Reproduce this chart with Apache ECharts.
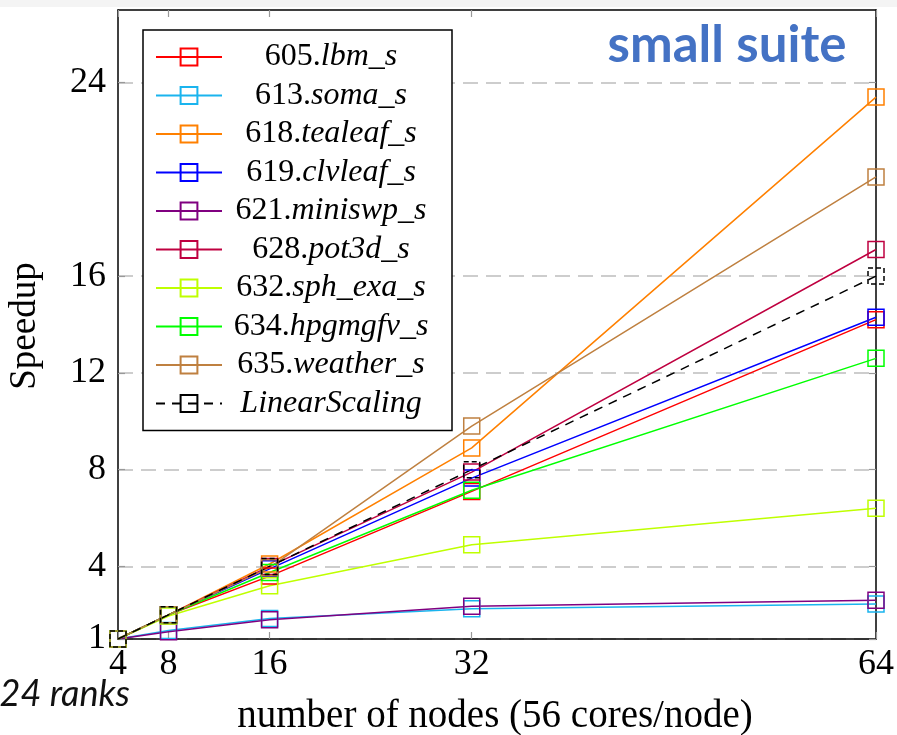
<!DOCTYPE html>
<html><head><meta charset="utf-8">
<script src="https://cdn.jsdelivr.net/npm/echarts@6/dist/echarts.min.js"></script>
<style>html,body{margin:0;padding:0;background:#fff}#c{width:897px;height:735px}</style>
</head><body><div id="c"></div>
<script>
// ---- data ----
const nodes = [4, 8, 16, 32, 64];
const xTicks = [4, 8, 16, 32, 64];
const yTicks = [1, 4, 8, 12, 16, 24];
const names = ['605.lbm_s','613.soma_s','618.tealeaf_s','619.clvleaf_s','621.miniswp_s','628.pot3d_s','632.sph_exa_s','634.hpgmgfv_s','635.weather_s','LinearScaling'];
const lbm     = [1, 2.0, 3.6, 7.1, 14.2];
const soma    = [1, 1.35, 1.85, 2.25, 2.45];
const tealeaf = [1, 2.0, 4.1, 8.9, 23.4];
const clvleaf = [1, 2.0, 3.9, 7.65, 14.3];
const miniswp = [1, 1.3, 1.8, 2.35, 2.6];
const pot3d   = [1, 2.0, 4.0, 7.9, 17.1];
const sphexa  = [1, 1.95, 3.2, 4.9, 6.4];
const hpgmgfv = [1, 2.0, 3.75, 7.15, 12.6];
const weather = [1, 2.0, 3.95, 9.8, 20.1];
const linear  = [1, 2, 4, 8, 16];
const values = [lbm, soma, tealeaf, clvleaf, miniswp, pot3d, sphexa, hpgmgfv, weather, linear];

// ---- style ----
const colors = ['#ff0000','#1ab4ee','#ff8000','#0000ff','#800080','#bf0040','#bfff00','#00ff00','#bf8040','#000000'];
const SERIF = 'Liberation Serif';
const LEG = 32;

const series = names.map((n, i) => {
  const dashed = i === names.length - 1;
  return {
    name: n,
    type: 'line',
    data: nodes.map((x, j) => [x, values[i][j]]),
    symbol: 'rect',
    symbolSize: 16,
    lineStyle: { color: colors[i], width: 1.5, type: dashed ? [9, 7] : 'solid' },
    itemStyle: { color: 'rgba(255,255,255,0)', borderColor: colors[i], borderWidth: 1.5, borderType: dashed ? [5, 3] : 'solid' },
    emphasis: { disabled: true },
    animation: false,
    z: 3
  };
});

const chart = echarts.init(document.getElementById('c'), null, { renderer: 'canvas' });
chart.setOption({
  animation: false,
  backgroundColor: '#fff',
  grid: { left: 118, right: 21, top: 10, bottom: 96 },
  xAxis: [{
    type: 'value', min: 4, max: 64, position: 'bottom',
    axisLine: { show: true, onZero: false, lineStyle: { color: '#000', width: 1.5 } },
    axisTick: { show: true, inside: true, length: 7, customValues: xTicks, lineStyle: { color: '#999', width: 1.2 } },
    axisLabel: { show: true, customValues: xTicks, fontFamily: SERIF, fontSize: 36, color: '#000', margin: 8 },
    splitLine: { show: false }
  }, {
    type: 'value', min: 4, max: 64, position: 'top',
    axisLine: { show: true, onZero: false, lineStyle: { color: '#000', width: 1.5 } },
    axisTick: { show: true, inside: true, length: 7, customValues: xTicks, lineStyle: { color: '#999', width: 1.2 } },
    axisLabel: { show: false },
    splitLine: { show: false }
  }],
  yAxis: [{
    type: 'value', min: 1, max: 27, position: 'left',
    axisLine: { show: true, onZero: false, lineStyle: { color: '#000', width: 1.5 } },
    axisTick: { show: true, inside: true, length: 7, customValues: yTicks, lineStyle: { color: '#999', width: 1.2 } },
    axisLabel: { show: true, customValues: yTicks, fontFamily: SERIF, fontSize: 36, color: '#000', margin: 12 },
    splitLine: { show: true, lineStyle: { color: '#bdbdbd', width: 1.5, type: [15, 8] } }
  }, {
    type: 'value', min: 1, max: 27, position: 'right',
    axisLine: { show: true, onZero: false, lineStyle: { color: '#000', width: 1.5 } },
    axisTick: { show: true, inside: true, length: 7, customValues: yTicks, lineStyle: { color: '#999', width: 1.2 } },
    axisLabel: { show: false },
    splitLine: { show: false }
  }],
  legend: {
    orient: 'vertical', left: 143, top: 30,
    padding: [11, 17, 11, 12],
    itemWidth: 66, itemHeight: 21, itemGap: 6.5,
    backgroundColor: '#fff', borderColor: '#000', borderWidth: 1.5, borderRadius: 0,
    selectedMode: false,
    data: names,
    formatter: function (name) {
      const k = name.indexOf('.');
      if (k < 0) return '{i|' + name + '}';
      return '{n|' + name.slice(0, k + 1) + '}{i|' + name.slice(k + 1) + '}';
    },
    textStyle: {
      width: 208, lineHeight: 30, fontFamily: SERIF, fontSize: LEG, color: '#000',
      rich: {
        n: { fontFamily: SERIF, fontSize: LEG, color: '#000', align: 'center', lineHeight: 30 },
        i: { fontFamily: SERIF, fontSize: LEG, color: '#000', fontStyle: 'italic', align: 'center', lineHeight: 30 }
      }
    },
    z: 10
  },
  graphic: [
    { type: 'rect', left: 0, top: 0, shape: { width: 897, height: 7 }, style: { fill: '#f4f4f4' }, silent: true, z: 0 },
    { type: 'text', x: 727, y: 46, style: { text: 'small suite', fontFamily: 'Lato', fontWeight: 'bold', fontSize: 51, fill: '#4472c4', align: 'center', verticalAlign: 'middle' }, z: 20 },
    { type: 'text', x: 25, y: 326, rotation: Math.PI / 2, style: { text: 'Speedup', fontFamily: SERIF, fontSize: 37, fill: '#000', align: 'center', verticalAlign: 'middle' } },
    { type: 'text', x: 495, y: 717, style: { text: 'number of nodes (56 cores/node)', fontFamily: SERIF, fontSize: 39, fill: '#000', align: 'center', verticalAlign: 'middle' } },
    { type: 'text', x: 130, y: 694, style: { text: '224 ranks', fontFamily: 'Lato', fontStyle: 'italic', fontSize: 36, fill: '#111', align: 'right', verticalAlign: 'middle' } }
  ],
  series: series
});
</script></body></html>
